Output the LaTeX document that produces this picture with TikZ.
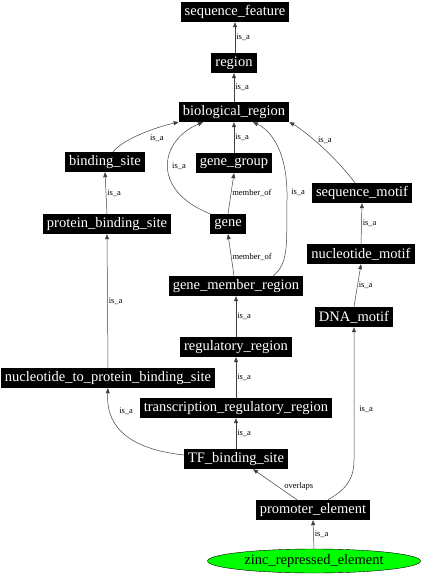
\documentclass[tikz,border=0pt]{standalone}
\usepackage{fontspec}
\setmainfont{Liberation Serif}
\usetikzlibrary{arrows.meta,shapes.geometric,positioning}
\begin{document}
\begin{tikzpicture}[x=1pt,y=-1pt,
  term/.style={fill=black,text=white,font=\fontsize{14.5}{15}\selectfont,inner xsep=4pt,inner ysep=0pt,minimum height=20pt},
  leaf/.style={ellipse,draw=black,fill=green,text=black,font=\fontsize{14.5}{15}\selectfont,minimum width=213pt,minimum height=24pt,inner sep=0pt},
  conn/.style={draw=black!75,line width=0.5pt,-{Triangle[length=5pt,width=4pt]}},
  lbl/.style={font=\fontsize{8.5}{9}\selectfont,inner sep=1pt,text=black}]
\useasboundingbox (0,0) rectangle (422,576);
\node[term] (sf) at (235,12) {sequence\_feature};
\node[term] (reg) at (234,63) {region};
\node[term] (bio) at (234,112) {biological\_region};
\node[term] (bs) at (105,162) {binding\_site};
\node[term] (gg) at (234,163) {gene\_group};
\node[term] (sm) at (362,193) {sequence\_motif};
\node[term] (pbs) at (107,224) {protein\_binding\_site};
\node[term] (gene) at (228,224) {gene};
\node[term] (nm) at (361,254) {nucleotide\_motif};
\node[term] (gmr) at (236,286) {gene\_member\_region};
\node[term] (dna) at (354,317) {DNA\_motif};
\node[term] (rr) at (236,347) {regulatory\_region};
\node[term] (ntp) at (108,378) {nucleotide\_to\_protein\_binding\_site};
\node[term] (trr) at (236,408) {transcription\_regulatory\_region};
\node[term] (tf) at (236,459) {TF\_binding\_site};
\node[term] (pe) at (313,510) {promoter\_element};
\node[leaf] (zre) at (314,561) {zinc\_repressed\_element};
% straight edges
\draw[conn] (reg.north -| sf.south) -- node[lbl,right,pos=0.5] {is\_a} (sf.south);
\draw[conn] (bio.north) -- node[lbl,right,pos=0.5] {is\_a} (reg.south);
\draw[conn] (gg.north) -- node[lbl,right,pos=0.5] {is\_a} (bio.south);
\draw[conn] (pbs.north) -- node[lbl,right,pos=0.5] {is\_a} (bs.south);
\draw[conn] (gene.north) -- node[lbl,right,pos=0.5] {member\_of} (gg.south);
\draw[conn] (nm.north) -- node[lbl,right,pos=0.5] {is\_a} (sm.south);
\draw[conn] (gmr.north -| 234,0) -- node[lbl,right,pos=0.45] {member\_of} (gene.south);
\draw[conn] (dna.north) -- node[lbl,right,pos=0.5] {is\_a} (nm.south);
\draw[conn] (rr.north) -- node[lbl,right,pos=0.5] {is\_a} (gmr.south);
\draw[conn] (ntp.north) -- node[lbl,right,pos=0.5] {is\_a} (pbs.south);
\draw[conn] (trr.north) -- node[lbl,right,pos=0.5] {is\_a} (rr.south);
\draw[conn] (tf.north) -- node[lbl,right,pos=0.5] {is\_a} (trr.south);
\draw[conn] (zre.north) -- node[lbl,right,pos=0.5] {is\_a} (pe.south);
% curved edges
\draw[conn] (bs.north) ++(8,0) .. controls (124,138) and (160,126) .. (bio.south west)
  node[lbl,pos=0.55,below right=2pt and 2pt] {is\_a};
\draw[conn] (gene.north west) .. controls (150,190) and (160,140) .. ([xshift=-31pt]bio.south)
  node[lbl,pos=0.5,right=3pt] {is\_a};
\draw[conn] (gmr.north east) ++(-30,0) .. controls (290,262) and (286,240) .. (287,200)
  .. controls (288,150) and (270,130) .. ([xshift=19pt]bio.south)
  node[lbl,pos=0.05,right=3pt] {is\_a};
\draw[conn] (sm.north) ++(-7,0) .. controls (330,150) and (300,128) .. (bio.south east)
  node[lbl,pos=0.5,above right=-2pt and 0pt] {is\_a};
\draw[conn] (tf.west) ++(0,-4) .. controls (120,448) and (106,420) .. (ntp.south)
  node[lbl,pos=0.75,right=8pt] {is\_a};
\draw[conn] (pe.north) ++(-16,0) -- node[lbl,pos=0.45,right=6pt] {overlaps} ([xshift=17pt]tf.south);
\draw[conn] (pe.north) ++(15,0) .. controls (345,490) and (354,480) .. (354,460) -- (dna.south)
  node[lbl,pos=0.38,right=4pt] {is\_a};
\end{tikzpicture}
\end{document}
